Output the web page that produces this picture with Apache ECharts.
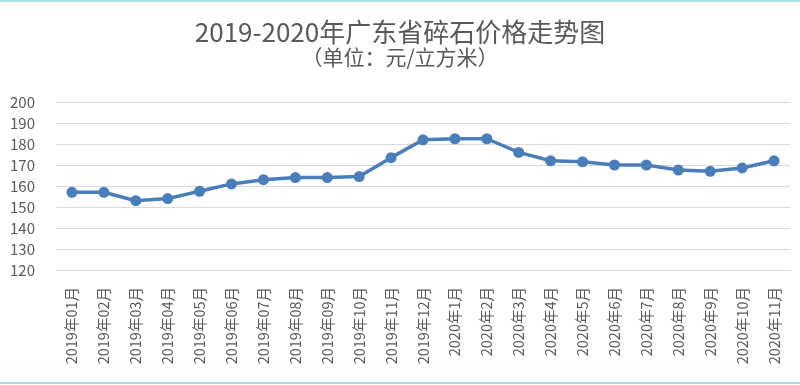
<!DOCTYPE html>
<html><head><meta charset="utf-8">
<script src="https://cdn.jsdelivr.net/npm/echarts@6/dist/echarts.min.js"></script>
<style>
html,body{margin:0;padding:0;background:#fff;}
#c{width:800px;height:385px;position:relative;}
.bt{position:absolute;left:0;width:800px;height:2px;background:#a9dbe9;}
</style></head>
<body>
<div id="c"></div>
<div class="bt" style="top:0"></div>
<div class="bt" style="top:382px"></div>
<script>
var categories = ["2019年01月","2019年02月","2019年03月","2019年04月","2019年05月","2019年06月","2019年07月","2019年08月","2019年09月","2019年10月","2019年11月","2019年12月","2020年1月","2020年2月","2020年3月","2020年4月","2020年5月","2020年6月","2020年7月","2020年8月","2020年9月","2020年10月","2020年11月"];
var prices = [157,157,153,154,157.5,161,163,164,164,164.5,173.5,182,182.5,182.5,176,172,171.5,170,170,167.6,167,168.6,172];
var yTicks = {min:120, max:200, interval:10};
var chart = echarts.init(document.getElementById('c'));
var font = '"Microsoft YaHei","Noto Sans CJK SC",sans-serif';
chart.setOption({
  animation:false,
  title:{
    text:'2019-2020年广东省碎石价格走势图',
    subtext:'（单位：元/立方米）',
    left:'center', top:14, itemGap:2,
    textStyle:{fontFamily:font,fontSize:26,fontWeight:'normal',color:'#595959'},
    subtextStyle:{fontFamily:font,fontSize:21,color:'#595959'}
  },
  grid:{left:56,right:10,top:102,bottom:115,containLabel:false},
  xAxis:{
    type:'category', data:categories, boundaryGap:true,
    axisLine:{lineStyle:{color:'#d9d9d9',width:1}},
    axisTick:{show:false},
    axisLabel:{rotate:90,interval:0,margin:17,fontSize:14.5,color:'#595959',fontFamily:font}
  },
  yAxis:{
    type:'value', min:yTicks.min, max:yTicks.max, interval:yTicks.interval,
    axisLine:{show:false}, axisTick:{show:false},
    axisLabel:{fontSize:15,color:'#595959',margin:21,fontFamily:font},
    splitLine:{lineStyle:{color:'#d9d9d9',width:1}}
  },
  series:[{
    type:'line', data:prices,
    symbol:'circle', symbolSize:11,
    lineStyle:{color:'#4a7ebb',width:3.5},
    itemStyle:{color:'#4a7ebb'}
  }]
});
</script>
</body></html>
